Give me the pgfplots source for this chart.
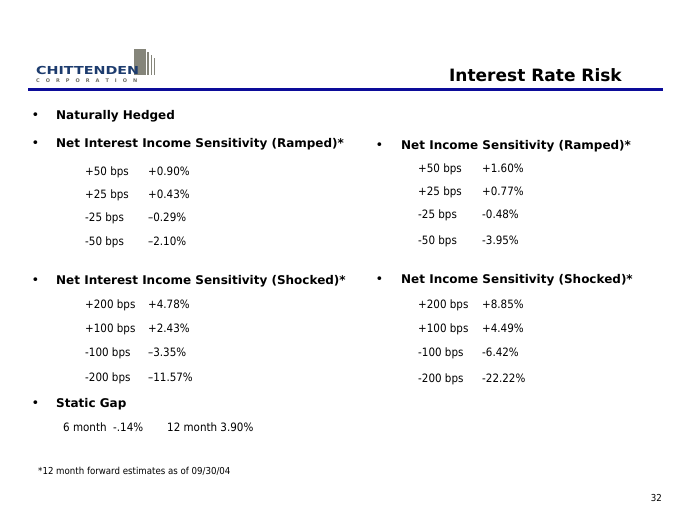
\documentclass[border=0pt]{standalone}
\usepackage{pgfplots}
\pgfplotsset{compat=1.18}
\usepackage{fontspec}
\setmainfont{DejaVu Sans}
\newfontfamily\cond{DejaVu Sans Condensed}
\definecolor{rule}{HTML}{0C0C99}
\definecolor{logoblue}{HTML}{1D3C6E}
\definecolor{logogray}{HTML}{85857A}
\begin{document}
\begin{tikzpicture}
\path[use as bounding box] (0,0) rectangle (680pt,510pt);
\begin{axis}[at={(0,0)},anchor=south west,width=680pt,height=510pt,scale only axis,
  xmin=0,xmax=680,ymin=0,ymax=510,y dir=reverse,hide axis,clip=false]
% logo
\fill[logogray] (axis cs:134,49) rectangle (axis cs:146,75);
\fill[logogray] (axis cs:147,52) rectangle (axis cs:149.3,75);
\fill[logogray] (axis cs:150.5,55) rectangle (axis cs:152.3,75);
\fill[logogray] (axis cs:153.5,58) rectangle (axis cs:155,75);
\node[anchor=west,inner sep=0pt,text=logoblue,font=\bfseries\fontsize{11}{12}\selectfont] at (axis cs:36,70) {\scalebox{1.3}[1]{CHITTENDEN}};
\node[anchor=west,inner sep=0pt,text=logogray!80!black,font=\bfseries\fontsize{5}{6}\selectfont] at (axis cs:36,81) {\makebox[101pt][s]{C\hfill O\hfill R\hfill P\hfill O\hfill R\hfill A\hfill T\hfill I\hfill O\hfill N}};
% rule
\draw[rule,line width=3pt] (axis cs:28,90) -- (axis cs:663,90);
% title
\node[anchor=east,inner sep=0pt,font=\bfseries\fontsize{17}{20}\selectfont] at (axis cs:622,75) {Interest Rate Risk};
\begin{scope}[every node/.style={anchor=base west,inner sep=0pt,font=\cond\fontsize{11.5}{13}\selectfont},
  bul/.style={anchor=base west,font=\fontsize{13}{14}\selectfont},
  hd/.style={anchor=base west,font=\bfseries\fontsize{12}{14}\selectfont}]
% left column
\node[bul] at (axis cs:31.5,119.5) {•};
\node[hd] at (axis cs:56,119.5) {Naturally Hedged};
\node[bul] at (axis cs:31.5,147.5) {•};
\node[hd] at (axis cs:56,147.5) {Net Interest Income Sensitivity (Ramped)*};
\node at (axis cs:85,175.2) {+50 bps};  \node at (axis cs:148,175.2) {+0.90\%};
\node at (axis cs:85,198.2) {+25 bps};  \node at (axis cs:148,198.2) {+0.43\%};
\node at (axis cs:85,221.2) {-25 bps};  \node at (axis cs:148,221.2) {–0.29\%};
\node at (axis cs:85,245.2) {-50 bps};  \node at (axis cs:148,245.2) {–2.10\%};
\node[bul] at (axis cs:31.5,284.5) {•};
\node[hd] at (axis cs:56,284.5) {Net Interest Income Sensitivity (Shocked)*};
\node at (axis cs:85,308.7) {+200 bps};  \node at (axis cs:148,308.7) {+4.78\%};
\node at (axis cs:85,332.7) {+100 bps};  \node at (axis cs:148,332.7) {+2.43\%};
\node at (axis cs:85,356.2) {-100 bps};  \node at (axis cs:148,356.2) {–3.35\%};
\node at (axis cs:85,381.2) {-200 bps};  \node at (axis cs:148,381.2) {–11.57\%};
\node[bul] at (axis cs:31.5,407.5) {•};
\node[hd] at (axis cs:56,407.5) {Static Gap};
\node at (axis cs:63,431.2) {6 month};
\node at (axis cs:113,431.2) {-.14\%};
\node at (axis cs:167,431.2) {12 month 3.90\%};
% right column
\node[bul] at (axis cs:375.5,149.5) {•};
\node[hd] at (axis cs:401,149.5) {Net Income Sensitivity (Ramped)*};
\node at (axis cs:418,172.2) {+50 bps};  \node at (axis cs:482,172.2) {+1.60\%};
\node at (axis cs:418,195.2) {+25 bps};  \node at (axis cs:482,195.2) {+0.77\%};
\node at (axis cs:418,218.2) {-25 bps};  \node at (axis cs:482,218.2) {-0.48\%};
\node at (axis cs:418,244.2) {-50 bps};  \node at (axis cs:482,244.2) {-3.95\%};
\node[bul] at (axis cs:375.5,283.5) {•};
\node[hd] at (axis cs:401,283.5) {Net Income Sensitivity (Shocked)*};
\node at (axis cs:418,308.2) {+200 bps};  \node at (axis cs:482,308.2) {+8.85\%};
\node at (axis cs:418,332.2) {+100 bps};  \node at (axis cs:482,332.2) {+4.49\%};
\node at (axis cs:418,356.2) {-100 bps};  \node at (axis cs:482,356.2) {-6.42\%};
\node at (axis cs:418,382.2) {-200 bps};  \node at (axis cs:482,382.2) {-22.22\%};
% footer
\node[font=\cond\fontsize{9.6}{11}\selectfont] at (axis cs:38,474.5) {*12 month forward estimates as of 09/30/04};
\node[anchor=base east,font=\cond\fontsize{9.6}{11}\selectfont] at (axis cs:662,501.5) {32};
\end{scope}
\end{axis}
\end{tikzpicture}
\end{document}
